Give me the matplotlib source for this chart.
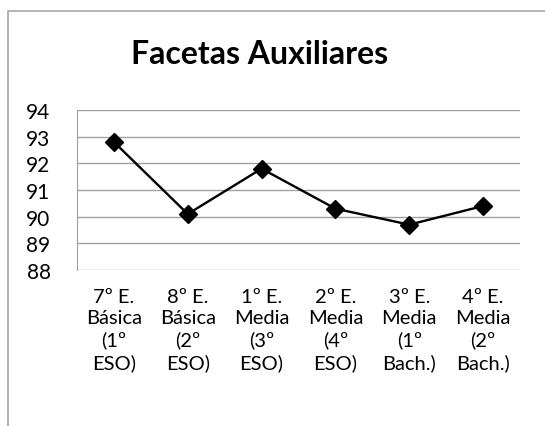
import matplotlib.pyplot as plt
from matplotlib.patches import Rectangle

plt.rcParams['font.family'] = ['Lato', 'DejaVu Sans']

categorias = [
    "7º E.\nBásica\n(1º\nESO)",
    "8º E.\nBásica\n(2º\nESO)",
    "1º E.\nMedia\n(3º\nESO)",
    "2º E.\nMedia\n(4º\nESO)",
    "3º E.\nMedia\n(1º\nBach.)",
    "4º E.\nMedia\n(2º\nBach.)",
]
valores = [92.8, 90.1, 91.8, 90.3, 89.7, 90.4]
yticks = [88, 89, 90, 91, 92, 93, 94]

W, H = 545, 427
fig = plt.figure(figsize=(W / 100, H / 100), dpi=100)

# marco exterior del gráfico (recortado a la derecha y abajo)
fig.patches.append(Rectangle((8 / W, -0.1), 1.2, (H - 12) / H + 0.1,
                             transform=fig.transFigure, fill=False,
                             edgecolor='#a6a6a6', linewidth=1.2))

ax = fig.add_axes([77 / W, (H - 271) / H, 443 / W, 160 / H])
x = range(len(categorias))
ax.plot(x, valores, color='black', linewidth=1.7, marker='D', markersize=9.5,
        markerfacecolor='black', markeredgecolor='black')

ax.set_xlim(-0.5, len(categorias) - 0.5)
ax.set_ylim(88, 94)
ax.set_yticks(yticks)
ax.set_xticks(list(x))
ax.set_xticklabels(categorias, fontsize=14.5, linespacing=1.3)
ax.tick_params(axis='y', labelsize=15, length=0, pad=19)
ax.tick_params(axis='x', length=0, pad=13)

ax.grid(True, axis='y', color='#a0a0a0', linewidth=1)
for lado in ['top', 'right', 'bottom']:
    ax.spines[lado].set_visible(False)
ax.spines['left'].set_color('#a0a0a0')
ax.set_axisbelow(True)

fig.text(260 / W, 1 - 54 / H, "Facetas Auxiliares", ha='center', va='center',
         fontsize=23, fontweight='bold')

fig.savefig("out.png", dpi=100)
